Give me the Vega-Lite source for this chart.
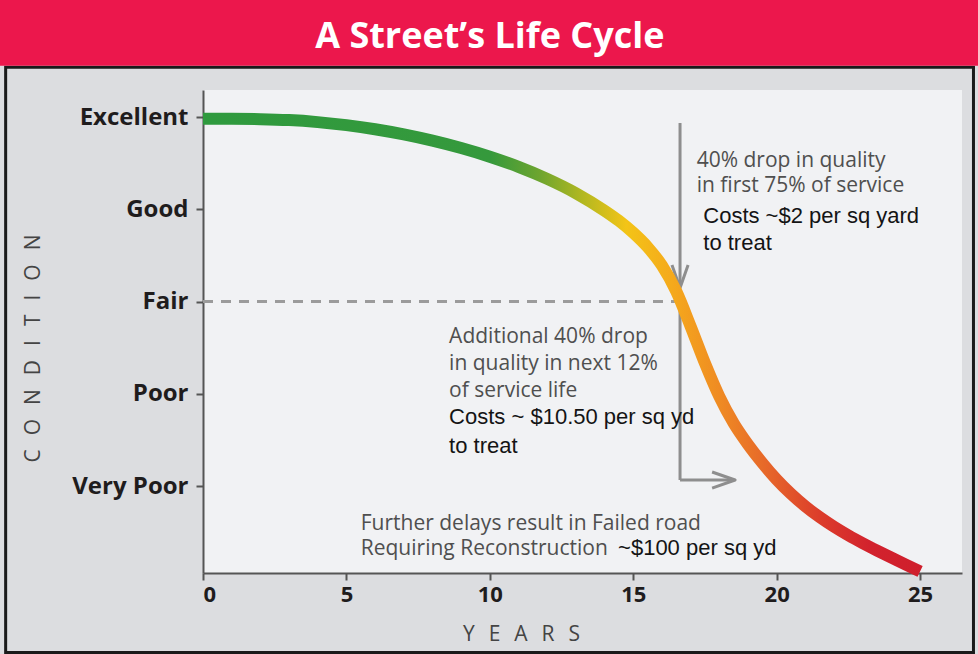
{
  "$schema": "https://vega.github.io/schema/vega-lite/v6.json",
  "width": 759,
  "height": 483,
  "autosize": {"type": "none"},
  "padding": {"left": 203, "top": 90, "right": 16, "bottom": 81},
  "background": "#dcdde0",
  "config": {
    "view": {"fill": "#f1f2f4", "stroke": null},
    "axis": {"grid": false}
  },
  "datasets": {
    "curve": [
      {"year": 0, "cond": 4.98}, {"year": 1, "cond": 4.98}, {"year": 2, "cond": 4.977},
      {"year": 3, "cond": 4.967}, {"year": 4, "cond": 4.945}, {"year": 5, "cond": 4.912},
      {"year": 6, "cond": 4.868}, {"year": 7, "cond": 4.812}, {"year": 8, "cond": 4.744},
      {"year": 9, "cond": 4.664}, {"year": 10, "cond": 4.57}, {"year": 11, "cond": 4.46},
      {"year": 12, "cond": 4.33}, {"year": 13, "cond": 4.175}, {"year": 14, "cond": 3.985},
      {"year": 14.5, "cond": 3.875}, {"year": 15, "cond": 3.745}, {"year": 15.5, "cond": 3.59},
      {"year": 16, "cond": 3.39}, {"year": 16.5, "cond": 3.11}, {"year": 17, "cond": 2.73},
      {"year": 17.5, "cond": 2.33}, {"year": 18, "cond": 1.97}, {"year": 18.5, "cond": 1.68},
      {"year": 19, "cond": 1.45}, {"year": 19.5, "cond": 1.25}, {"year": 20, "cond": 1.07},
      {"year": 20.5, "cond": 0.915}, {"year": 21, "cond": 0.78}, {"year": 21.5, "cond": 0.662},
      {"year": 22, "cond": 0.558}, {"year": 22.5, "cond": 0.465}, {"year": 23, "cond": 0.38},
      {"year": 23.5, "cond": 0.3}, {"year": 24, "cond": 0.223}, {"year": 24.5, "cond": 0.148},
      {"year": 25, "cond": 0.074}
    ],
    "fair": [{"x": 0, "x2": 16.45, "y": 3}],
    "segments": [
      {"x": 16.63, "y": 4.935, "x2": 16.63, "y2": 3.16},
      {"x": 16.63, "y": 2.97, "x2": 16.63, "y2": 1.065},
      {"x": 16.63, "y": 1.065, "x2": 18.5, "y2": 1.065}
    ],
    "heads": [
      {"x": 16.63, "y": 3.146, "dir": "down"},
      {"x": 18.55, "y": 1.065, "dir": "right"}
    ],
    "grayNotes": [
      {"x": 17.21, "y": 4.46, "text": "40% drop in quality"},
      {"x": 17.21, "y": 4.185, "text": "in first 75% of service"},
      {"x": 8.58, "y": 2.55, "text": "Additional 40% drop"},
      {"x": 8.58, "y": 2.257, "text": "in quality in next 12%"},
      {"x": 8.58, "y": 1.968, "text": "of service life"},
      {"x": 5.5, "y": 0.52, "text": "Further delays result in Failed road"},
      {"x": 5.5, "y": 0.247, "text": "Requiring Reconstruction"}
    ],
    "blackNotes": [
      {"x": 17.44, "y": 3.854, "text": "Costs ~$2 per sq yard"},
      {"x": 17.44, "y": 3.558, "text": "to treat"},
      {"x": 8.58, "y": 1.672, "text": "Costs ~ $10.50 per sq yd"},
      {"x": 8.58, "y": 1.361, "text": "to treat"},
      {"x": 14.47, "y": 0.247, "text": "~$100 per sq yd"}
    ],
    "heading": [{"x": 10.0, "y": 5.748, "text": "A Street’s Life Cycle"}]
  },
  "layer": [
    {
      "data": {"name": "heading"},
      "mark": {"type": "rect", "fillOpacity": 0, "stroke": "#1a1a1a", "strokeWidth": 3},
      "encoding": {
        "x": {"datum": -6.88, "type": "quantitative"},
        "x2": {"datum": 26.86},
        "y": {"datum": 5.54, "type": "quantitative"},
        "y2": {"datum": -0.805}
      }
    },
    {
      "data": {"name": "heading"},
      "mark": {"type": "rect", "color": "#ec174c"},
      "encoding": {
        "x": {"datum": -7.2, "type": "quantitative"},
        "x2": {"datum": 27.3},
        "y": {"datum": 5.555, "type": "quantitative"},
        "y2": {"datum": 6.4}
      }
    },
    {
      "data": {"name": "fair"},
      "mark": {"type": "rule", "color": "#9b9b9b", "strokeWidth": 3, "strokeDash": [10, 8]},
      "encoding": {
        "x": {"field": "x", "type": "quantitative"},
        "x2": {"field": "x2"},
        "y": {"field": "y", "type": "quantitative"}
      }
    },
    {
      "data": {"name": "segments"},
      "mark": {"type": "rule", "color": "#8e8e8e", "strokeWidth": 3},
      "encoding": {
        "x": {"field": "x", "type": "quantitative"},
        "x2": {"field": "x2"},
        "y": {"field": "y", "type": "quantitative"},
        "y2": {"field": "y2"}
      }
    },
    {
      "data": {"name": "heads"},
      "mark": {"type": "point", "filled": false, "stroke": "#8e8e8e", "strokeWidth": 3, "size": 2116, "opacity": 1, "strokeJoin": "round"},
      "encoding": {
        "x": {"field": "x", "type": "quantitative"},
        "y": {"field": "y", "type": "quantitative"},
        "shape": {"field": "dir", "type": "nominal", "legend": null,
          "scale": {"domain": ["down", "right"], "range": ["M-0.35,-1L0,0L0.35,-1", "M-1,-0.35L0,0L-1,0.35"]}}
      }
    },
    {
      "data": {"name": "curve"},
      "mark": {
        "type": "line", "strokeWidth": 12, "interpolate": "monotone", "strokeCap": "butt",
        "color": {
          "gradient": "linear", "x1": 0, "x2": 1, "y1": 0, "y2": 0,
          "stops": [
            {"offset": 0, "color": "#2f9a3e"},
            {"offset": 0.4, "color": "#35993c"},
            {"offset": 0.47, "color": "#6ea52f"},
            {"offset": 0.53, "color": "#b3b820"},
            {"offset": 0.59, "color": "#f3c417"},
            {"offset": 0.655, "color": "#f5a91c"},
            {"offset": 0.72, "color": "#ef8b23"},
            {"offset": 0.79, "color": "#e6652a"},
            {"offset": 0.86, "color": "#dc3d2b"},
            {"offset": 0.93, "color": "#d2222d"},
            {"offset": 1, "color": "#cf1f2c"}
          ]
        }
      },
      "encoding": {
        "x": {"field": "year", "type": "quantitative",
          "scale": {"domain": [0, 26.46], "nice": false, "zero": false},
          "axis": {
            "values": [0, 5, 10, 15, 20, 25],
            "title": "Y\u2002\u2009E\u2002\u2009A\u2002\u2009R\u2002\u2009S",
            "domainColor": "#555555", "domainWidth": 2,
            "tickColor": "#555555", "tickWidth": 2, "tickSize": 7,
            "labelFont": "Open Sans", "labelFontWeight": "bold", "labelFontSize": 22,
            "labelColor": "#1f1c1d", "labelPadding": 4,
            "titleFont": "Open Sans", "titleFontWeight": "normal", "titleFontSize": 21,
            "titleColor": "#444444", "titleX": 318, "titleY": 67,
            "titleAlign": "center", "titleBaseline": "alphabetic", "titleAngle": 0
          }
        },
        "y": {"field": "cond", "type": "quantitative",
          "scale": {"domain": [0.057, 5.293], "nice": false, "zero": false},
          "axis": {
            "values": [1, 2, 3, 4, 5],
            "labelExpr": "['', 'Very Poor', 'Poor', 'Fair', 'Good', 'Excellent'][datum.value]",
            "title": "C\u2002\u2009O\u2002\u2009N\u2002\u2009D\u2002\u2009I\u2002\u2009T\u2002\u2009I\u2002\u2009O\u2002\u2009N",
            "domainColor": "#555555", "domainWidth": 2,
            "tickColor": "#555555", "tickWidth": 2, "tickSize": 7,
            "labelFont": "Open Sans", "labelFontWeight": "bold", "labelFontSize": 24,
            "labelColor": "#1f1c1d", "labelPadding": 8,
            "titleFont": "Open Sans", "titleFontWeight": "normal", "titleFontSize": 21,
            "titleColor": "#444444", "titleX": -170, "titleY": 258,
            "titleAlign": "center", "titleBaseline": "middle", "titleAngle": 270
          }
        }
      }
    },
    {
      "data": {"name": "grayNotes"},
      "mark": {"type": "text", "align": "left", "baseline": "alphabetic", "font": "Open Sans", "fontSize": 21, "color": "#4f4f4f"},
      "encoding": {
        "x": {"field": "x", "type": "quantitative"},
        "y": {"field": "y", "type": "quantitative"},
        "text": {"field": "text"}
      }
    },
    {
      "data": {"name": "blackNotes"},
      "mark": {"type": "text", "align": "left", "baseline": "alphabetic", "font": "Liberation Sans", "fontSize": 22, "color": "#141414"},
      "encoding": {
        "x": {"field": "x", "type": "quantitative"},
        "y": {"field": "y", "type": "quantitative"},
        "text": {"field": "text"}
      }
    },
    {
      "data": {"name": "heading"},
      "mark": {"type": "text", "align": "center", "baseline": "alphabetic", "font": "Open Sans", "fontWeight": "bold", "fontSize": 36, "color": "#ffffff"},
      "encoding": {
        "x": {"field": "x", "type": "quantitative"},
        "y": {"field": "y", "type": "quantitative"},
        "text": {"field": "text"}
      }
    }
  ]
}
